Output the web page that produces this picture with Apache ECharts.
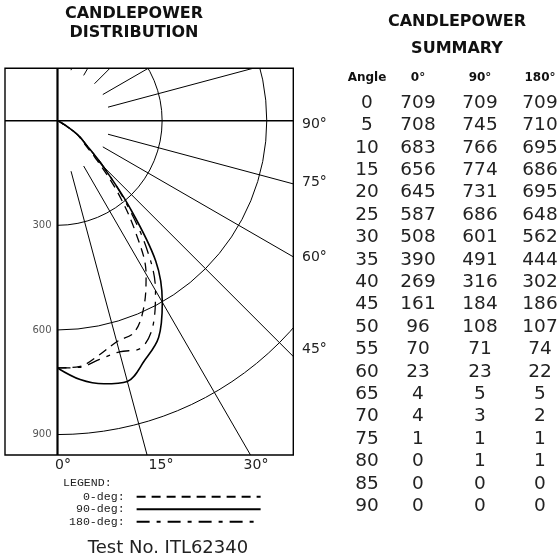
<!DOCTYPE html>
<html><head><meta charset="utf-8">
<script src="https://cdn.jsdelivr.net/npm/echarts@6/dist/echarts.min.js"></script>
<style>html,body{margin:0;padding:0;background:#fff}#c{width:559px;height:560px}</style>
</head><body><div id="c"></div>
<script>
// ---- data ----
const angles = [0,5,10,15,20,25,30,35,40,45,50,55,60,65,70,75,80,85,90];
const cd0   = [709,708,683,656,645,587,508,390,269,161,96,70,23,4,4,1,0,0,0];
const cd90  = [709,745,766,774,731,686,601,491,316,184,108,71,23,5,3,1,1,0,0];
const cd180 = [709,710,695,686,695,648,562,444,302,186,107,74,22,5,2,1,1,0,0];
const seriesNames = ['0-deg','90-deg','180-deg'];
const radiusTicks = [300,600,900];
const gridAngles = [15,30,45,60,75,105,120,135,150,165];
const sideLabels = ['90°','75°','60°','45°'];
const bottomLabels = ['0°','15°','30°'];
const tableHeader = ['Angle','0°','90°','180°'];

// ---- layout ----
const CX = 57.5, CY = 120.7, R = 418.5, RMAX = 1200, RIN = 150;
const FL = 5, FT = 68.3, FR = 293.3, FB = 455;

const chart = echarts.init(document.getElementById('c'), null, {renderer:'canvas'});

function pts(vals){ return vals.map((v,i)=>[v, angles[i]]); }

const curveStyles = [
  {type:[9,6], width:1.3, color:'#000'},
  {type:'solid', width:1.6, color:'#000'},
  {type:[13,7,4,7], width:1.3, color:'#000'}
];
const curveData = [cd0, cd90, cd180];

const series = [];
gridAngles.forEach(a=>{
  series.push({type:'line', coordinateSystem:'polar', polarIndex:0, silent:true,
    data:[[RIN,a],[RMAX,a]], symbol:'none', animation:false, clip:false,
    lineStyle:{color:'#000', width:1}});
});
curveData.forEach((d,i)=>{
  series.push({name:seriesNames[i], type:'line', coordinateSystem:'polar', polarIndex:0,
    data:pts(d), symbol:'none', smooth:0.35, animation:false, clip:false,
    itemStyle:{color:'#000', opacity:0},
    lineStyle:curveStyles[i], z:3});
});

const g = [];
const Z_MASK = 50, Z_TOP = 70;
[[0,0,559,FT],[0,FB,559,560-FB],[FR,0,559-FR,560],[0,0,FL,560]].forEach(r=>{
  g.push({type:'rect', shape:{x:r[0],y:r[1],width:r[2],height:r[3]}, style:{fill:'#fff'}, z:Z_MASK, silent:true});
});
g.push({type:'rect', shape:{x:FL,y:FT,width:FR-FL,height:FB-FT}, style:{fill:null, stroke:'#000', lineWidth:1.4}, z:Z_TOP});
g.push({type:'line', shape:{x1:CX,y1:FT,x2:CX,y2:FB}, style:{stroke:'#000', lineWidth:2.2}, z:Z_TOP});
g.push({type:'line', shape:{x1:FL,y1:CY,x2:FR,y2:CY}, style:{stroke:'#000', lineWidth:1.4}, z:Z_TOP});

function txt(t, x, y, font, align, color){
  g.push({type:'text', x:x, y:y, z:Z_TOP, silent:true,
    style:{text:t, font:font, fill:color||'#111', align:align||'center', verticalAlign:'middle'}});
}
txt('CANDLEPOWER', 134, 14, 'bold 16px "DejaVu Sans"');
txt('DISTRIBUTION', 134, 33, 'bold 16px "DejaVu Sans"');
txt('CANDLEPOWER', 457, 22, 'bold 16px "DejaVu Sans"');
txt('SUMMARY', 457, 49, 'bold 16px "DejaVu Sans"');
const sideY = [124, 182, 257, 349];
sideLabels.forEach((t,i)=>txt(t, 302, sideY[i], '14px "DejaVu Sans"', 'left', '#222'));
const bottomX = [63, 161, 256];
bottomLabels.forEach((t,i)=>txt(t, bottomX[i], 465, '14px "DejaVu Sans"', 'center', '#222'));
const colX = [367, 418, 480, 540];
tableHeader.forEach((t,i)=>txt(t, colX[i], 78, 'bold 12px "DejaVu Sans"', 'center', '#111'));
angles.forEach((a,k)=>{
  const y = 103 + 22.4*k;
  [a, cd0[k], cd90[k], cd180[k]].forEach((v,i)=>txt(String(v), colX[i], y, '18.5px "DejaVu Sans"', 'center', '#222'));
});
txt('LEGEND:', 63, 483, '11.6px "Liberation Mono"', 'left', '#222');
txt('Test No. ITL62340', 168, 548, '18px "DejaVu Sans"', 'center', '#222');

const option = {
  backgroundColor:'#fff',
  animation:false,
  polar:[{center:[CX,CY], radius:[0,R]}],
  angleAxis:{polarIndex:0, type:'value', min:0, max:180, startAngle:-90, endAngle:90, clockwise:false,
    axisLine:{show:false}, axisTick:{show:false}, axisLabel:{show:false}, splitLine:{show:false}},
  radiusAxis:{polarIndex:0, type:'value', min:0, max:RMAX, interval:300,
    axisLine:{show:false}, axisTick:{show:false},
    axisLabel:{show:true, formatter:v=>radiusTicks.includes(v)?String(v):'', color:'#555', fontSize:10,
      fontFamily:'DejaVu Sans', margin:-6, align:'right', verticalAlign:'middle'},
    splitLine:{show:true, lineStyle:{color:'#000', width:1}}, z:1},
  legend:{data:seriesNames, orient:'vertical', left:69, top:490.5, padding:0, align:'right',
    itemWidth:124, itemHeight:12.5, itemGap:0, z:80, selectedMode:false,
    itemStyle:{opacity:0},
    formatter:n=>(n+':').padStart(8,' ')+' ',
    textStyle:{fontFamily:'Liberation Mono', fontSize:11.6, color:'#222', lineHeight:12.5}},
  series:series,
  graphic:g
};
chart.setOption(option);
</script></body></html>
